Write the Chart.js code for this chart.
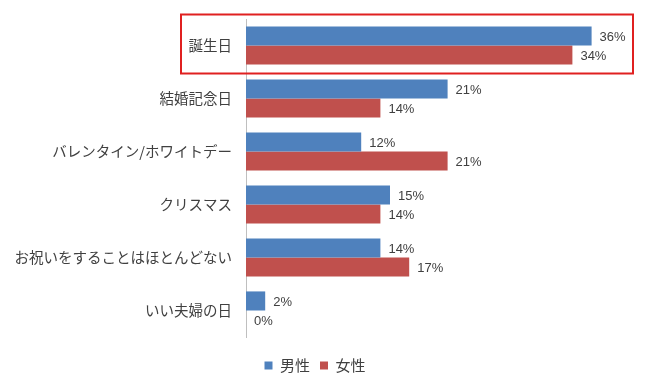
<!DOCTYPE html>
<html>
<head>
<meta charset="utf-8">
<script src="https://cdn.jsdelivr.net/npm/chart.js@4"></script>
<style>
  html, body { margin: 0; padding: 0; background: #fff; }
  #wrap { width: 650px; height: 391px; }
</style>
</head>
<body>
<div id="wrap"><canvas id="chart"></canvas></div>
<script>
  const categories = ['誕生日', '結婚記念日', 'バレンタイン/ホワイトデー', 'クリスマス', 'お祝いをすることはほとんどない', 'いい夫婦の日'];
  const seriesNames = ['男性', '女性'];
  const maleValues = [36, 21, 12, 15, 14, 2];
  const femaleValues = [34, 14, 21, 14, 17, 0];

  const BLUE = '#4f81bd';
  const RED = '#c0504d';
  const TEXT = '#404040';
  const JP_FONT = '"Noto Sans CJK JP", "Noto Sans", sans-serif';

  // value labels at the end of each bar
  const valueLabels = {
    id: 'valueLabels',
    afterDatasetsDraw(chart) {
      const ctx = chart.ctx;
      ctx.save();
      ctx.font = '13px "Liberation Sans", Arial, sans-serif';
      ctx.fillStyle = TEXT;
      ctx.textAlign = 'left';
      ctx.textBaseline = 'middle';
      chart.data.datasets.forEach((ds, i) => {
        chart.getDatasetMeta(i).data.forEach((bar, j) => {
          ctx.fillText(ds.data[j] + '%', bar.x + 8, bar.y + 1);
        });
      });
      ctx.restore();
    }
  };

  // red highlight frame around the first category
  const highlight = {
    id: 'highlight',
    afterDraw(chart) {
      const y = chart.scales.y;
      const area = chart.chartArea;
      const c = y.getPixelForTick(0);
      const ctx = chart.ctx;
      ctx.save();
      ctx.strokeStyle = '#e02020';
      ctx.lineWidth = 2;
      ctx.strokeRect(181, c - 31, area.right + 3 - 181, 59);
      ctx.restore();
    }
  };

  new Chart(document.getElementById('chart'), {
    type: 'bar',
    data: {
      labels: categories,
      datasets: [
        { label: seriesNames[0], data: maleValues, backgroundColor: BLUE },
        { label: seriesNames[1], data: femaleValues, backgroundColor: RED }
      ]
    },
    options: {
      indexAxis: 'y',
      responsive: true,
      maintainAspectRatio: false,
      animation: false,
      layout: { padding: { top: 19, right: 20, bottom: 8, left: 0 } },
      datasets: { bar: { barPercentage: 1, categoryPercentage: 0.72 } },
      plugins: {
        legend: {
          position: 'bottom',
          labels: {
            boxWidth: 8,
            boxHeight: 8,
            padding: 10,
            color: TEXT,
            font: { size: 15, family: JP_FONT }
          }
        },
        tooltip: { enabled: false }
      },
      scales: {
        x: {
          min: 0,
          max: 40,
          grid: { display: false },
          border: { display: false },
          ticks: { display: false },
          afterFit(scale) { scale.height = 11; }
        },
        y: {
          grid: { display: false, drawTicks: false },
          border: { display: true, color: '#bfbfbf', width: 1 },
          ticks: {
            color: TEXT,
            padding: 14,
            font: { size: 14.5, family: JP_FONT }
          },
          afterFit(scale) {
            scale.width = 246;
            scale.paddingTop = 0;
            scale.paddingBottom = 0;
          }
        }
      }
    },
    plugins: [valueLabels, highlight]
  });
</script>
</body>
</html>
